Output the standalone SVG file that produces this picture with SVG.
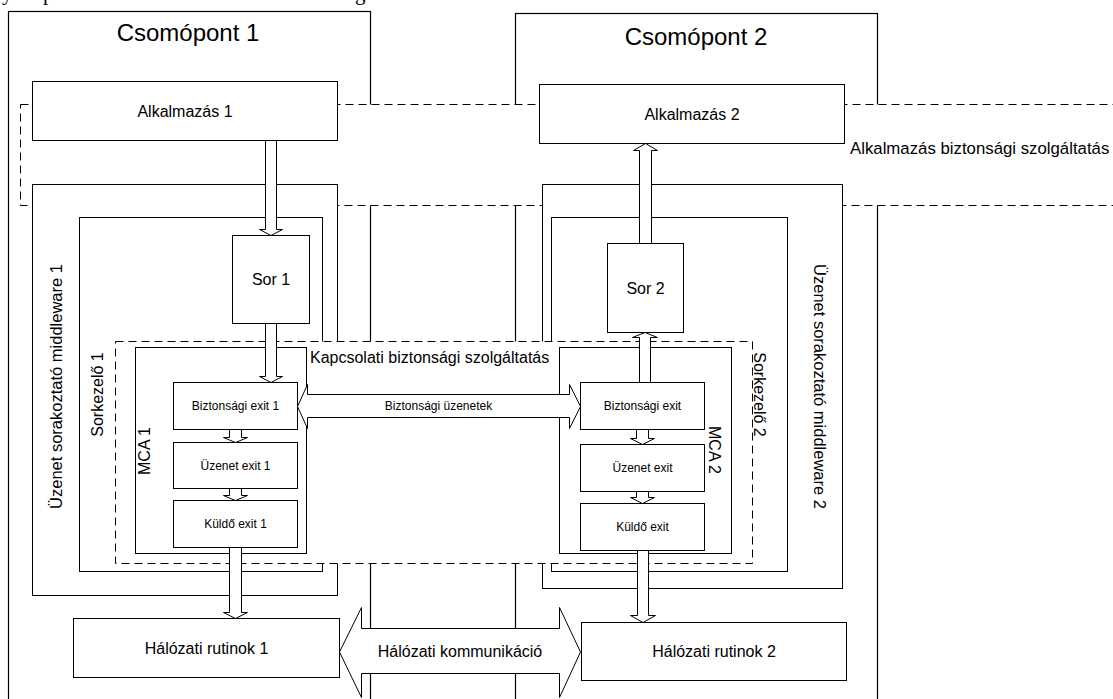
<svg xmlns="http://www.w3.org/2000/svg" width="1113" height="699" viewBox="0 0 1113 699">
  <style>
    .box { fill: #fff; stroke: #000; stroke-width: 1; }
    .frame { fill: none; stroke: #000; stroke-width: 1.2; }
    .zone { fill: #fff; stroke: #000; stroke-width: 1; stroke-dasharray: 8 5; }
    .arrow { fill: #fff; stroke: #000; stroke-width: 1; stroke-linejoin: miter; }
    text { font-family: "Liberation Sans", Arial, sans-serif; fill: #000; }
    .title { font-size: 24px; text-anchor: middle; }
    .lbl { font-size: 16px; text-anchor: middle; }
    .small { font-size: 12px; text-anchor: middle; }
    .cut { font-family: "Liberation Serif", "Times New Roman", serif; font-size: 21px; }
  </style>

  <!-- descenders of the preceding text line, clipped by the page edge -->
  <g id="page-text">
    <text class="cut" x="2" y="0">y</text>
    <text class="cut" x="43" y="0">p</text>
    <text class="cut" x="355" y="0">g</text>
  </g>

  <!-- host nodes -->
  <g id="node1">
    <rect class="frame" x="8.5" y="11.5" width="362" height="720"/>
    <text class="title" x="188" y="41">Csomópont 1</text>
  </g>
  <g id="node2">
    <rect class="frame" x="515.5" y="13.5" width="362" height="720"/>
    <text class="title" x="696" y="45">Csomópont 2</text>
  </g>

  <!-- application-level security band -->
  <g id="app-security">
    <rect class="zone" x="20.5" y="104.5" width="1110" height="101"/>
    <text x="850" y="154" style="font-size:16.8px">Alkalmazás biztonsági szolgáltatás</text>
  </g>

  <g id="app1">
    <rect class="box" x="32.5" y="81.5" width="305" height="59"/>
    <text class="lbl" x="185" y="116.5">Alkalmazás 1</text>
  </g>
  <g id="app2">
    <rect class="box" x="539.5" y="84.5" width="305" height="59"/>
    <text class="lbl" x="692" y="119.5">Alkalmazás 2</text>
  </g>

  <!-- message queuing middleware -->
  <g id="mw1">
    <rect class="box" x="32.5" y="184.5" width="305" height="411"/>
    <text transform="translate(61.5,386.5) rotate(-90)" style="font-size:16.5px" text-anchor="middle">Üzenet sorakoztató middleware 1</text>
  </g>
  <g id="mw2">
    <rect class="box" x="542.5" y="184.5" width="300" height="404"/>
    <text transform="translate(813.5,386.5) rotate(90)" style="font-size:16.5px" text-anchor="middle">Üzenet sorakoztató middleware 2</text>
  </g>

  <!-- queue managers -->
  <g id="qm1">
    <rect class="box" x="79.5" y="217.5" width="243" height="354"/>
    <text class="lbl" transform="translate(103,394.5) rotate(-90)">Sorkezelő 1</text>
  </g>
  <g id="qm2">
    <rect class="box" x="551.5" y="217.5" width="236" height="354"/>
  </g>

  <g id="queue1">
    <rect class="box" x="232.5" y="235.5" width="77" height="88"/>
    <text class="lbl" x="271" y="285">Sor 1</text>
  </g>
  <g id="queue2">
    <rect class="box" x="607.5" y="243.5" width="76" height="89"/>
    <text class="lbl" x="645.5" y="293.5">Sor 2</text>
  </g>

  <!-- channel-level security band -->
  <g id="channel-security">
    <rect class="zone" x="115.5" y="341.5" width="637" height="222"/>
    <text x="310" y="363" style="font-size:16px">Kapcsolati biztonsági szolgáltatás</text>
  </g>
  <g id="qm2-label">
    <text class="lbl" transform="translate(754,394.5) rotate(90)">Sorkezelő 2</text>
  </g>

  <!-- message channel agents -->
  <g id="mca1">
    <rect class="box" x="135.5" y="347.5" width="171" height="206"/>
    <text class="lbl" transform="translate(150,451) rotate(-90)">MCA 1</text>
  </g>
  <g id="mca2">
    <rect class="box" x="559.5" y="347.5" width="172" height="206"/>
    <text class="lbl" transform="translate(709,450) rotate(90)">MCA 2</text>
  </g>

  <!-- channel exits -->
  <g id="sec-exit1">
    <rect class="box" x="173.5" y="382.5" width="124" height="47"/>
    <text class="small" x="235.5" y="410">Biztonsági exit 1</text>
  </g>
  <g id="msg-exit1">
    <rect class="box" x="173.5" y="442.5" width="124" height="46"/>
    <text class="small" x="235.5" y="469.5">Üzenet exit 1</text>
  </g>
  <g id="send-exit1">
    <rect class="box" x="173.5" y="500.5" width="124" height="47"/>
    <text class="small" x="235.5" y="528">Küldő exit 1</text>
  </g>
  <g id="sec-exit2">
    <rect class="box" x="580.5" y="382.5" width="124" height="47"/>
    <text class="small" x="642.5" y="410">Biztonsági exit</text>
  </g>
  <g id="msg-exit2">
    <rect class="box" x="580.5" y="444.5" width="124" height="47"/>
    <text class="small" x="642.5" y="472">Üzenet exit</text>
  </g>
  <g id="send-exit2">
    <rect class="box" x="580.5" y="503.5" width="124" height="47"/>
    <text class="small" x="642.5" y="531">Küldő exit</text>
  </g>

  <!-- network layer -->
  <g id="net1">
    <rect class="box" x="73.5" y="618.5" width="266" height="59"/>
    <text class="lbl" x="206.5" y="653.5">Hálózati rutinok 1</text>
  </g>
  <g id="net2">
    <rect class="box" x="581.5" y="622.5" width="265" height="58"/>
    <text class="lbl" x="714" y="657">Hálózati rutinok 2</text>
  </g>

  <!-- block-arrow connectors -->
  <g id="connectors">
    <!-- node 1: downward flow -->
    <polygon class="arrow" points="265.5,140.5 276.5,140.5 276.5,229.5 282.5,229.5 271,235.5 259.5,229.5 265.5,229.5"/>
    <polygon class="arrow" points="265.5,323.5 276.5,323.5 276.5,376.5 282.5,376.5 271,382.5 259.5,376.5 265.5,376.5"/>
    <polygon class="arrow" points="229.5,429.5 241.5,429.5 241.5,437.5 247.5,437.5 235.5,442.5 223.5,437.5 229.5,437.5"/>
    <polygon class="arrow" points="229.5,488.5 241.5,488.5 241.5,495.5 247.5,495.5 235.5,500.5 223.5,495.5 229.5,495.5"/>
    <polygon class="arrow" points="229.5,547.5 241.5,547.5 241.5,612.5 247.5,612.5 235.5,618.5 223.5,612.5 229.5,612.5"/>
    <!-- node 2: upward delivery -->
    <polygon class="arrow" points="639.5,243.5 651.5,243.5 651.5,150.5 657.5,150.5 645.5,143.5 633.5,150.5 639.5,150.5"/>
    <polygon class="arrow" points="639.5,382.5 650.5,382.5 650.5,337.5 657.5,337.5 645,332.5 632.5,337.5 639.5,337.5"/>
    <!-- node 2: exit chain -->
    <polygon class="arrow" points="636.5,429.5 648.5,429.5 648.5,438.5 654.5,438.5 642.5,444.5 630.5,438.5 636.5,438.5"/>
    <polygon class="arrow" points="636.5,491.5 648.5,491.5 648.5,497.5 654.5,497.5 642.5,503.5 630.5,497.5 636.5,497.5"/>
    <polygon class="arrow" points="637.5,550.5 648.5,550.5 648.5,615.5 655.5,615.5 643,622.5 630.5,615.5 637.5,615.5"/>
    <!-- security messages between the exits -->
    <polygon class="arrow" points="297.5,406.5 307.5,384.5 307.5,394.5 569.5,394.5 569.5,384.5 580.5,406.5 569.5,428.5 569.5,417.5 307.5,417.5 307.5,428.5"/>
    <text class="small" x="438.5" y="410">Biztonsági üzenetek</text>
    <!-- network communication -->
    <polygon class="arrow" points="339.5,652 361.5,607.5 361.5,628.5 559.5,628.5 559.5,607.5 580.5,652 559.5,697.5 559.5,673.5 361.5,673.5 361.5,697.5"/>
    <text class="lbl" x="460" y="657">Hálózati kommunikáció</text>
  </g>
</svg>
